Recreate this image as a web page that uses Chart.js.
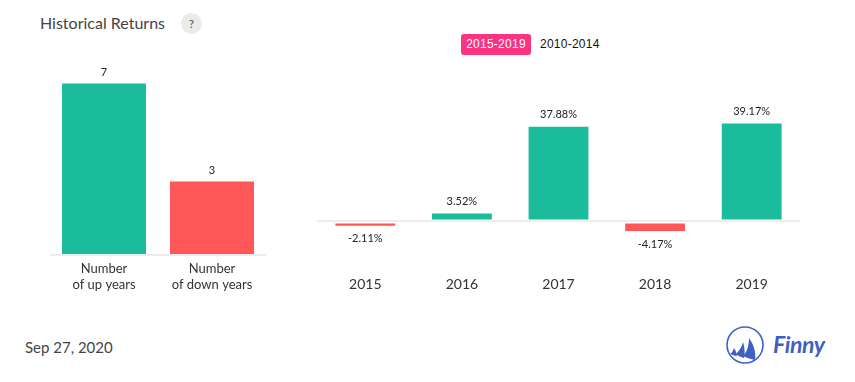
<!DOCTYPE html>
<html>
<head>
<meta charset="utf-8">
<script src="https://cdn.jsdelivr.net/npm/chart.js@4"></script>
<style>
html, body { margin: 0; padding: 0; background: #fff; }
body { width: 855px; height: 382px; position: relative; overflow: hidden; font-family: Lato, sans-serif; }
.abs { position: absolute; white-space: nowrap; }
canvas { position: absolute; }
#title { left: 40px; top: 13px; font-size: 16px; line-height: 20px; color: #444; }
#help { left: 181px; top: 13px; width: 21px; height: 21px; line-height: 21px; border-radius: 50%; background: #ebebeb; color: #555; font-size: 12px; text-align: center; }
.btn { top: 34px; height: 21px; line-height: 21px; font-family: "Liberation Sans", sans-serif; font-size: 12px; letter-spacing: 0.25px; }
#btnA { left: 461px; width: 70px; background: #fa3383; color: #fff; border-radius: 3px; text-align: center; }
#btnB { left: 540px; color: #111; }
#date { left: 25px; top: 337px; font-size: 15px; line-height: 20px; color: #444; }
#logo { left: 720px; top: 322px; }
</style>
</head>
<body>
<div class="abs" id="title">Historical Returns</div>
<div class="abs" id="help">?</div>
<div class="abs btn" id="btnA">2015-2019</div>
<div class="abs btn" id="btnB">2010-2014</div>
<div style="position:absolute;left:50px;top:59px;width:216px;height:244px"><canvas id="countChart"></canvas></div>
<div style="position:absolute;left:317px;top:95px;width:483px;height:207px"><canvas id="returnChart"></canvas></div>
<div class="abs" id="date">Sep 27, 2020</div>
<svg class="abs" id="logo" width="115" height="50" viewBox="0 0 115 50">
  <circle cx="25" cy="23" r="18" fill="none" stroke="#3f5fc5" stroke-width="1.6"/>
  <path d="M29 16 C34 23 36 30 35 38 C31 37 27 36 23 34 C27 30 29 23 29 16Z" fill="#3f5fc5"/>
  <path d="M23 20 C25 26 25 32 24 36 C21 35 18 34 16 32 C19 29 22 25 23 20Z" fill="#3f5fc5"/>
  <path d="M14 26 C16 29 17 32 17 34 C15 34 13 33 10 32 C12 31 13 29 14 26Z" fill="#3f5fc5"/>
  <text x="53" y="31" font-family="Lato" font-style="italic" font-weight="700" font-size="23" textLength="52" fill="#3f5fc5">Finny</text>
</svg>
<script>
const countLabels = [['Number', 'of up years'], ['Number', 'of down years']];
const countValues = [7, 3];
const years = ['2015', '2016', '2017', '2018', '2019'];
const returns = [-2.11, 3.52, 37.88, -4.17, 39.17];

const teal = '#1abc9c';
const red = '#ff5757';

// labels on top of / under the bars
const barLabels = {
    id: 'barLabels',
    afterDatasetsDraw(chart, args, opts) {
        const c = chart.ctx;
        const data = chart.data.datasets[0].data;
        c.save();
        c.font = '11px Lato';
        c.fillStyle = '#222';
        c.textAlign = 'center';
        c.textBaseline = 'middle';
        chart.getDatasetMeta(0).data.forEach(function (bar, i) {
            const y = data[i] < 0 ? bar.y + 12 : bar.y - 11;
            c.fillText(opts.format(data[i]), bar.x, y);
        });
        c.restore();
    }
};

function baseOptions(yMin, yMax, barPct, axisHeight, tickSize, tickPad, step, format) {
    return {
        responsive: true,
        maintainAspectRatio: false,
        animation: false,
        layout: { padding: 0 },
        plugins: {
            legend: { display: false },
            tooltip: { enabled: false },
            barLabels: { format: format }
        },
        datasets: { bar: { barPercentage: barPct, categoryPercentage: 1 } },
        scales: {
            x: {
                grid: { display: false, drawTicks: false },
                border: { display: false },
                afterFit: function (s) { s.height = axisHeight; },
                ticks: { color: '#333', font: { family: 'Lato', size: tickSize }, padding: tickPad, maxRotation: 0, autoSkip: false }
            },
            y: {
                min: yMin,
                max: yMax,
                afterFit: function (s) { s.width = 0; },
                border: { display: false },
                ticks: { display: false, stepSize: step },
                grid: {
                    drawTicks: false,
                    lineWidth: 2,
                    color: function (ctx) { return ctx.tick.value === 0 ? '#ececec' : 'rgba(0,0,0,0)'; }
                }
            }
        }
    };
}

var left = new Chart(document.getElementById('countChart').getContext('2d'), {
    type: 'bar',
    plugins: [barLabels],
    data: {
        labels: countLabels,
        datasets: [{
            data: countValues,
            backgroundColor: [teal, red],
            borderWidth: 0
        }]
    },
    options: baseOptions(0, 8, 0.778, 48, 13, 6, 1, function (v) { return String(v); })
});

var right = new Chart(document.getElementById('returnChart').getContext('2d'), {
    type: 'bar',
    plugins: [barLabels],
    data: {
        labels: years,
        datasets: [{
            data: returns,
            backgroundColor: returns.map(function (v) { return v < 0 ? red : teal; }),
            borderColor: '#fff',
            borderWidth: 1,
            borderSkipped: false
        }]
    },
    options: baseOptions(-20, 50, 0.64, 30, 14, 4, 10, function (v) { return v.toFixed(2) + '%'; })
});
</script>
</body>
</html>
